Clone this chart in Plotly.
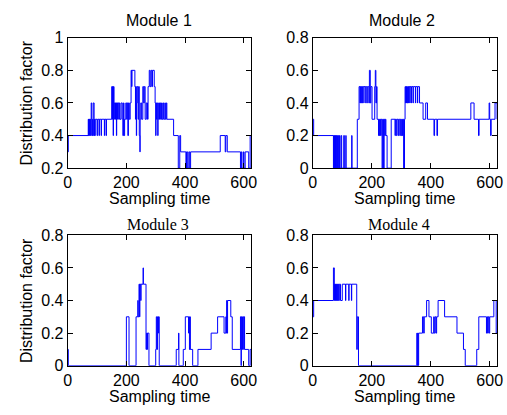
import plotly.graph_objects as go

# ---- data: change points (sampling time, distribution factor), step-wise ----
m1_t = [0, 2, 70, 71, 72, 73, 74, 76, 77, 79, 80, 82, 83, 85, 86, 87, 90, 91, 92, 94,
        100, 102, 107, 108, 114, 115, 125, 126, 131, 132,
        150, 152, 153, 155, 156, 158, 160, 161, 163, 164, 166, 167, 170, 171, 174, 176, 178,
        182, 186, 188, 190, 192, 194, 198, 201, 203, 205, 207, 210, 213,
        216, 218, 219, 229, 231, 232, 234, 235, 237, 240, 242, 244, 246, 247,
        249, 252, 256, 259, 261, 264, 268, 272, 274, 278, 281, 284, 287, 289, 295, 298,
        300, 301, 303, 305, 307, 308, 310, 313, 315, 317, 320, 322, 325, 327, 331, 333, 336, 338,
        361, 377, 382, 385, 403, 405, 409, 413, 416, 419,
        520, 537, 539, 544, 589, 592, 594, 599, 601, 605, 617, 622, 625]
m1_v = [0.3, 0.4, 0.5, 0.4, 0.5, 0.4, 0.5, 0.4, 0.5, 0.4, 0.6, 0.5, 0.4, 0.5, 0.4, 0.6, 0.4, 0.5, 0.4, 0.5,
        0.4, 0.5, 0.4, 0.5, 0.4, 0.5, 0.4, 0.5, 0.4, 0.5,
        0.7, 0.5, 0.7, 0.4, 0.7, 0.6, 0.5, 0.6, 0.5, 0.6, 0.4, 0.6, 0.5, 0.6, 0.5, 0.6, 0.5,
        0.6, 0.5, 0.4, 0.6, 0.4, 0.5, 0.6, 0.5, 0.6, 0.4, 0.6, 0.5, 0.6,
        0.8, 0.7, 0.8, 0.7, 0.5, 0.7, 0.4, 0.6, 0.7, 0.5, 0.7, 0.4, 0.3, 0.5,
        0.6, 0.5, 0.7, 0.6, 0.7, 0.5, 0.6, 0.5, 0.7, 0.8, 0.7, 0.8, 0.7, 0.8, 0.7, 0.6,
        0.4, 0.6, 0.5, 0.6, 0.4, 0.5, 0.6, 0.5, 0.6, 0.5, 0.6, 0.5, 0.6, 0.5, 0.6, 0.5, 0.6, 0.5,
        0.4, 0.2, 0.4, 0.3, 0.2, 0.3, 0.2, 0.3, 0.2, 0.3,
        0.4, 0.3, 0.4, 0.3, 0.2, 0.3, 0.2, 0.3, 0.2, 0.3, 0.2, 0.4, 0.4]

m2_t = [0, 3, 70, 71, 73, 74, 76, 77, 79, 80, 82, 84, 86, 88, 89, 91, 92, 96, 98, 105, 107,
        112, 113, 132, 133, 151, 157, 160, 161, 163, 164, 166, 168, 170, 171, 177, 178, 183, 185,
        190, 192, 195, 197, 201, 210, 212, 214, 216, 218, 223, 224, 226, 228, 230, 232,
        235, 237, 240, 242, 244, 246, 248, 252, 266,
        279, 280, 283, 285, 289, 291, 295, 297, 300, 302, 304, 306, 308, 311, 313,
        315, 316, 318, 319, 321, 323, 325, 326, 329, 330, 334, 335, 340, 341, 348, 349, 355, 356, 362,
        374, 383, 389, 411, 413, 421, 423, 536, 547, 562, 564, 598, 600, 603, 605, 618, 625]
m2_v = [0.3, 0.2, 0.0, 0.2, 0.0, 0.2, 0.0, 0.2, 0.0, 0.2, 0.0, 0.2, 0.0, 0.2, 0.0, 0.2, 0.0, 0.2, 0.0, 0.2, 0.0,
        0.2, 0.0, 0.2, 0.0, 0.3, 0.5, 0.4, 0.5, 0.4, 0.5, 0.4, 0.5, 0.4, 0.5, 0.4, 0.5, 0.4, 0.5,
        0.4, 0.6, 0.4, 0.5, 0.3, 0.5, 0.6, 0.4, 0.5, 0.3, 0.2, 0.3, 0.2, 0.3, 0.2, 0.3,
        0.0, 0.3, 0.0, 0.3, 0.2, 0.3, 0.2, 0.0, 0.3,
        0.2, 0.3, 0.2, 0.3, 0.2, 0.3, 0.2, 0.3, 0.2, 0.3, 0.2, 0.3, 0.0, 0.3, 0.5,
        0.4, 0.5, 0.4, 0.5, 0.4, 0.5, 0.4, 0.5, 0.4, 0.5, 0.4, 0.5, 0.4, 0.5, 0.4, 0.5, 0.4, 0.5, 0.4,
        0.3, 0.4, 0.3, 0.2, 0.3, 0.2, 0.3, 0.4, 0.3, 0.2, 0.3, 0.4, 0.3, 0.2, 0.3, 0.4, 0.3]

m3_t = [0, 2, 200, 209, 233, 239, 240, 243, 245, 246, 249, 250, 257, 258, 267, 269, 271, 272, 277,
        300, 302, 304, 306, 309, 310, 312, 370, 378, 379, 394, 401, 412, 413, 415, 417, 418, 426,
        444, 489, 511, 533, 539, 541, 542, 543, 545, 556, 561, 589, 591, 592, 594, 596, 600, 601,
        603, 617, 622, 625]
m3_v = [0.1, 0.0, 0.3, 0.0, 0.3, 0.4, 0.3, 0.5, 0.3, 0.5, 0.4, 0.5, 0.6, 0.5, 0.1, 0.2, 0.1, 0.2, 0.0,
        0.1, 0.3, 0.1, 0.3, 0.2, 0.3, 0.0, 0.1, 0.2, 0.0, 0.1, 0.3, 0.2, 0.3, 0.1, 0.3, 0.1, 0.0,
        0.1, 0.2, 0.3, 0.2, 0.3, 0.2, 0.4, 0.2, 0.4, 0.3, 0.1, 0.3, 0.0, 0.3, 0.1, 0.3, 0.1, 0.3,
        0.1, 0.0, 0.1, 0.1]

m4_t = [0, 3, 70, 73, 74, 76, 77, 79, 80, 82, 83, 85, 86, 88, 90, 94, 100, 111, 112, 122, 123,
        131, 132, 149, 151, 155, 353, 354, 356, 357, 359, 372, 376, 378, 386, 394, 402, 410, 412,
        415, 418, 420, 425, 447, 489, 511, 517, 556, 563, 589, 591, 593, 595, 598, 600, 614, 622, 625]
m4_v = [0.3, 0.4, 0.6, 0.4, 0.5, 0.4, 0.5, 0.4, 0.5, 0.4, 0.5, 0.4, 0.5, 0.4, 0.5, 0.4, 0.5, 0.4, 0.5, 0.4, 0.5,
        0.4, 0.5, 0.1, 0.3, 0.0, 0.2, 0.0, 0.2, 0.0, 0.2, 0.3, 0.2, 0.3, 0.4, 0.3, 0.2, 0.3, 0.2,
        0.3, 0.2, 0.3, 0.4, 0.3, 0.2, 0.1, 0.0, 0.1, 0.3, 0.2, 0.3, 0.2, 0.3, 0.2, 0.3, 0.4, 0.2, 0.2]

x_ticks = [0, 200, 400, 600]
y_ticks_top = [0.2, 0.4, 0.6, 0.8, 1.0]
y_labels_top = ["0.2", "0.4", "0.6", "0.8", "1"]
y_ticks = [0, 0.2, 0.4, 0.6, 0.8]
y_labels = ["0", "0.2", "0.4", "0.6", "0.8"]
titles = ["Module 1", "Module 2", "Module 3", "Module 4"]

W, H = 507, 415
SANS = "Liberation Sans, Arial, Helvetica, sans-serif"
SERIF = "Liberation Serif, Times New Roman, serif"

fig = go.Figure()
series = [(m1_t, m1_v), (m2_t, m2_v), (m3_t, m3_v), (m4_t, m4_v)]
for i, (t, v) in enumerate(series):
    sfx = "" if i == 0 else str(i + 1)
    fig.add_trace(go.Scatter(x=t, y=v, mode="lines", line=dict(color="#0000ff", width=1, shape="hv"),
                             xaxis="x" + sfx, yaxis="y" + sfx, showlegend=False, hoverinfo="skip"))

# plot-area pixel boxes (left, right, top, bottom)
boxes = [(65, 252, 31, 167), (315, 503, 31, 167), (65, 252, 237, 373), (315, 503, 237, 373)]

axis_common = dict(showline=True, linecolor="black", linewidth=1, mirror="ticks", ticks="inside",
                   ticklen=5, tickcolor="black", tickwidth=1, showgrid=False, zeroline=False,
                   tickfont=dict(family=SANS, size=16, color="black"))
layout = dict(width=W, height=H, margin=dict(l=0, r=0, t=0, b=0), paper_bgcolor="white",
              plot_bgcolor="white", showlegend=False)
for i, (l, r, tp, b) in enumerate(boxes):
    sfx = "" if i == 0 else str(i + 1)
    layout["xaxis" + sfx] = dict(axis_common, domain=[l / W, r / W], range=[0, 625],
                                 tickmode="array", tickvals=x_ticks, anchor="y" + sfx)
    if i == 0:
        yt, yl, yr = y_ticks_top, y_labels_top, [0.2, 1.0]
    else:
        yt, yl, yr = y_ticks, y_labels, [0, 0.8]
    layout["yaxis" + sfx] = dict(axis_common, domain=[1 - b / H, 1 - tp / H], range=yr,
                                 tickmode="array", tickvals=yt, ticktext=yl, anchor="x" + sfx)
fig.update_layout(**layout)

ann = []
title_pos = [(158, 13, SANS), (406, 13, SANS), (157, 226, SERIF), (403, 226, SERIF)]
for txt, (x, y, fam) in zip(titles, title_pos):
    ann.append(dict(text=txt, x=x / W, y=1 - y / H, xref="paper", yref="paper", showarrow=False,
                    xanchor="center", yanchor="middle", font=dict(family=fam, size=16, color="black")))
for (l, r, tp, b) in boxes:
    ann.append(dict(text="Sampling time", x=(l + r) / 2 / W, y=1 - (b + 32) / H, xref="paper",
                    yref="paper", showarrow=False, xanchor="center", yanchor="middle",
                    font=dict(family=SANS, size=16, color="black")))
for (l, r, tp, b) in [boxes[0], boxes[2]]:
    ann.append(dict(text="Distribution factor", x=23 / W, y=1 - (tp + b) / 2 / H, xref="paper",
                    yref="paper", showarrow=False, textangle=-90, xanchor="center", yanchor="middle",
                    font=dict(family=SANS, size=16, color="black")))
fig.update_layout(annotations=ann)

fig.write_html("out.html", config={"displayModeBar": False},
               post_script="document.body.style.margin='0';document.body.style.overflow='hidden';")
